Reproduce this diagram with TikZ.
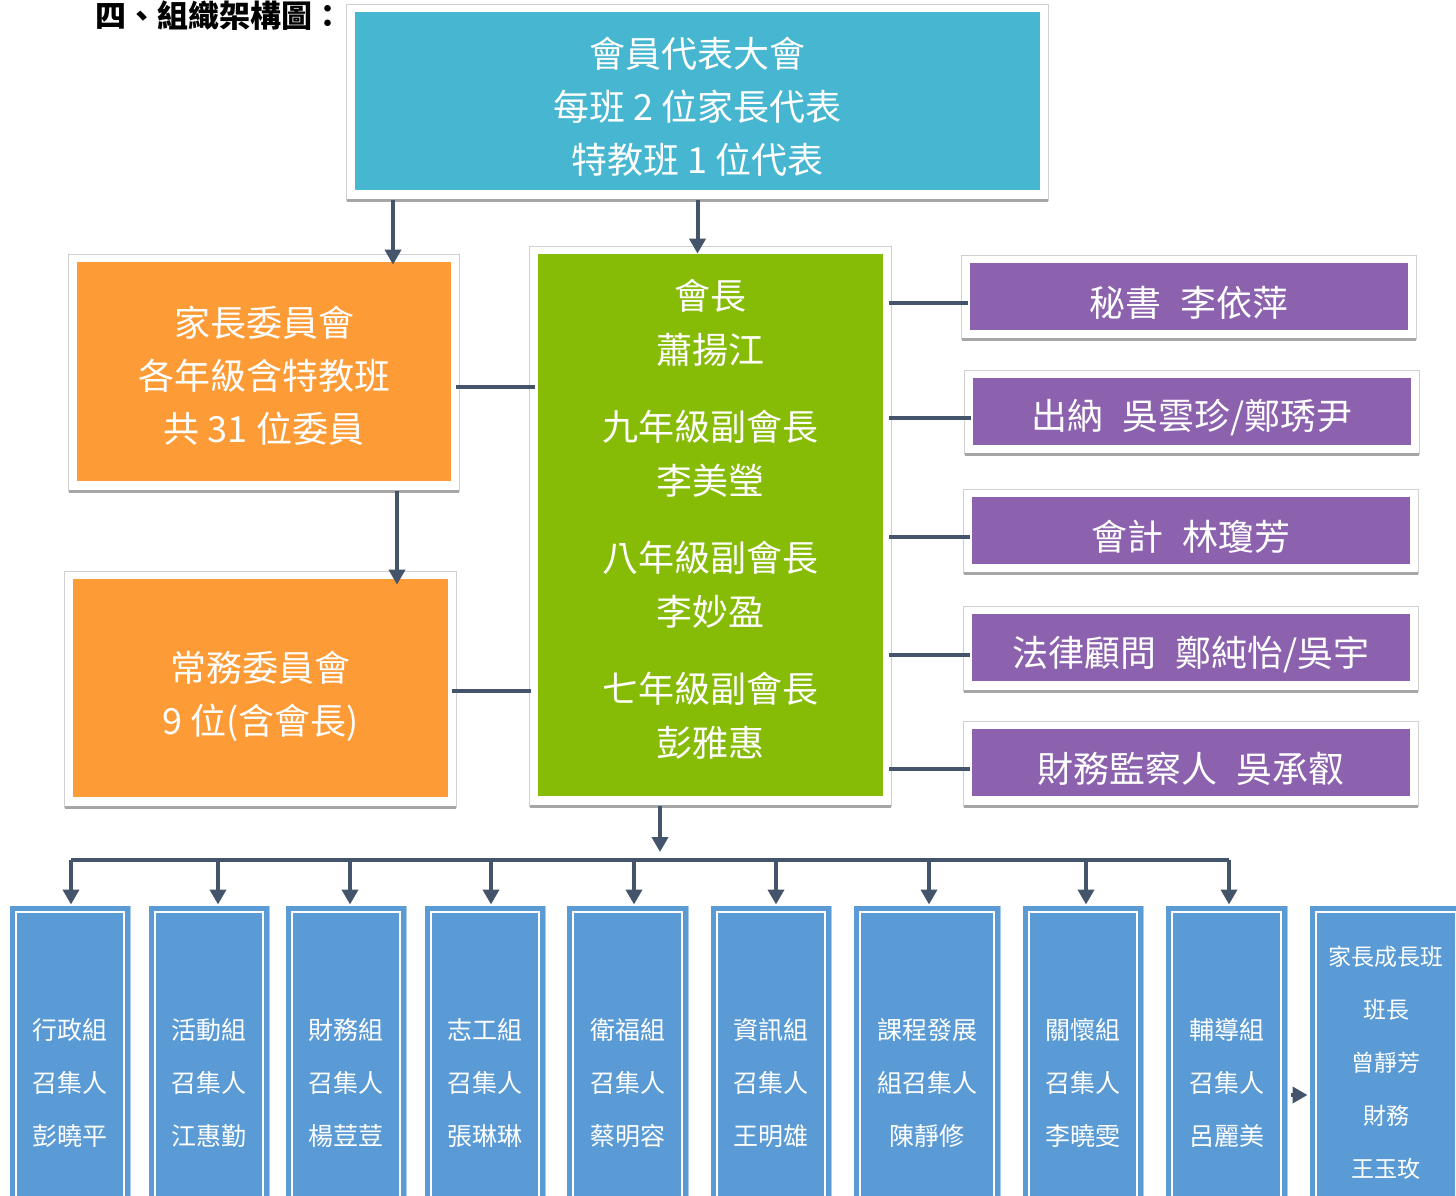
\documentclass[tikz,border=0pt]{standalone}
\usepackage{fontspec}
\setmainfont{Noto Sans CJK TC}
\usepackage{tikz}
\usetikzlibrary{arrows.meta,calc,backgrounds}
\definecolor{meetcyan}{HTML}{47B6D0}
\definecolor{boardorange}{HTML}{FD9B36}
\definecolor{chairgreen}{HTML}{86BC05}
\definecolor{staffpurple}{HTML}{8C61AE}
\definecolor{groupblue}{HTML}{5B9BD5}
\definecolor{groupedge}{HTML}{A9CBEA}
\definecolor{linkgray}{HTML}{44546A}
\definecolor{framegray}{HTML}{D0D0D0}
\definecolor{shadowgray}{HTML}{A6A6A6}

\begin{document}
\begin{tikzpicture}[x=0.5pt,y=-0.5pt,
  cardbox/.style={inner sep=0pt},
  words/.style={inner sep=0pt, text=white, align=center},
  bigtext/.style={font={\fontsize{18}{26.5}\selectfont}},
  meet/.style={cardbox, fill=meetcyan, minimum width=342.5pt, minimum height=89pt},
  board/.style={cardbox, fill=boardorange, minimum width=187pt, minimum height=109.5pt},
  chairbox/.style={cardbox, fill=chairgreen, minimum width=172.5pt, minimum height=271pt},
  staff/.style={cardbox, fill=staffpurple, minimum width=219pt, minimum height=33.5pt},
  stafftext/.style={words, font={\fontsize{18}{20}\selectfont\spaceskip=0.55em\relax}},
  groupbox/.style={words, fill=groupblue, draw=groupblue, line width=2.5pt, double=white, double distance=1pt,
    preaction={draw=groupedge, line width=6.5pt}, minimum height=171pt, font={\fontsize{12.5}{26.5}\selectfont}},
  boxframe/.style={fill=white, draw=framegray, line width=0.5pt},
  frameshadow/.style={draw=shadowgray, line width=1.5pt},
  link/.style={draw=linkgray, line width=2pt},
  arr/.style={link, -{Triangle[length=7.5pt,width=8pt]}}]
  \useasboundingbox (0,0) rectangle (1456,1195);
  \clip (0,0) rectangle (1456,1195);

  \node[anchor=west, inner sep=0pt, font={\fontsize{15.5}{18}\selectfont\bfseries}] (title) at (95,16) {四、組織架構圖：};

  \node[meet] (meeting) at (697.5,101) {};
  \node[words, bigtext] (meeting-t) at ($(meeting)+(0,6)$) {會員代表大會\\每班 2 位家長代表\\特教班 1 位代表};
  \node[board] (council) at (264,371.5) {};
  \node[words, bigtext] (council-t) at ($(council)+(0,4)$) {家長委員會\\各年級含特教班\\共 31 位委員};
  \node[board, minimum width=187.5pt, minimum height=109pt] (standing) at (260.5,688) {};
  \node[words, bigtext] (standing-t) at ($(standing)+(0,8)$) {常務委員會\\9 位(含會長)};
  \node[chairbox] (chair) at (710.5,525) {};
  \node[words, font={\fontsize{18}{27}\selectfont}] (chair-t) at ($(chair)+(0,-6)$)
    {會長\\蕭揚江\\[11.5pt]九年級副會長\\李美瑩\\[11.5pt]八年級副會長\\李妙盈\\[11.5pt]七年級副會長\\彭雅惠};

  \node[staff] (sec) at (1189,296) {};
  \node[staff] (cash) at (1192,411) {};
  \node[staff] (acct) at (1191,530) {};
  \node[staff] (legal) at (1191,647.5) {};
  \node[staff] (audit) at (1191,762.5) {};
  \node[stafftext] (sec-t) at ($(sec)+(0,7)$) {秘書 李依萍};
  \node[stafftext] (cash-t) at ($(cash)+(0,7)$) {出納 吳雲珍/鄭琇尹};
  \node[stafftext] (acct-t) at ($(acct)+(0,7)$) {會計 林瓊芳};
  \node[stafftext] (legal-t) at ($(legal)+(0,7)$) {法律顧問 鄭純怡/吳宇};
  \node[stafftext] (audit-t) at ($(audit)+(0,6)$) {財務監察人 吳承叡};

  \foreach \i/\x/\w/\a/\b/\c in {1/70/54/行政組/召集人/彭曉平, 2/209/54/活動組/召集人/江惠勤,
      3/346/54/財務組/召集人/楊荳荳, 4/485/54/志工組/召集人/張琳琳, 5/627.5/54.5/衛福組/召集人/蔡明容,
      6/771/54/資訊組/召集人/王明雄, 7/927/67/課程發展/組召集人/陳靜修, 8/1083/54/關懷組/召集人/李曉雯,
      9/1226.5/54.5/輔導組/召集人/呂麗美}
    \node[groupbox, minimum width=\w pt] (g\i) at (\x,1083) {\a\\\b\\\c};
  \node[groupbox, minimum width=70pt, minimum height=151pt, font={\fontsize{11.5}{26.5}\selectfont}] (g10) at (1386,1063)
    {家長成長班\\班長\\曾靜芳\\財務\\王玉玫};

  \begin{scope}[on background layer]
    \fill[white] (0,0) rectangle (1456,1195);
    \foreach \n in {meeting,council,standing,chair,sec,cash,acct,legal,audit}{
      \draw[boxframe] ([shift={(-8,-7)}]\n.north west) rectangle ([shift={(8,10)}]\n.south east);
      \draw[frameshadow] ([shift={(-8,10)}]\n.south west) -- ([shift={(8,10)}]\n.south east);
    }
  \end{scope}

  \coordinate (cut1) at (393,0);
  \coordinate (cut2) at (397,0);
  \coordinate (tie1) at (0,387);
  \coordinate (tie2) at (0,691);
  \coordinate (hub) at (660,860);

  \draw[arr, shorten <=5pt, shorten >=-1.5pt] (meeting.south -| cut1) -- (council.north -| cut1);
  \draw[arr, shorten <=5pt] (meeting.south) -- (meeting.south |- chair.north);
  \draw[arr, shorten <=5pt, shorten >=-3pt] (council.south -| cut2) -- (standing.north -| cut2);
  \draw[link, shorten <=2.5pt, shorten >=1.5pt] (council.east |- tie1) -- (chair.west |- tie1);
  \draw[link, shorten <=2pt, shorten >=3.5pt] (standing.east |- tie2) -- (chair.west |- tie2);
  \foreach \p in {sec,cash,acct,legal,audit}
    \draw[link, shorten <=3pt, shorten >=1pt] (chair.east |- \p-t) -- (\p.west |- \p-t);

  \draw[arr, shorten <=5pt, shorten >=4pt] (chair.south -| hub) -- (hub);
  \draw[link] ($(g1.north |- hub)+(1,0)$) -- ($(g9.north |- hub)+(2.5,0)$);
  \foreach \i/\d in {1/1, 2/9, 3/4, 4/6, 5/6.5, 6/5, 7/2, 8/3, 9/2.5}
    \draw[arr, shorten >=2.5pt] ($(g\i.north |- hub)+(\d,0)$) -- ($(g\i.north)+(\d,0)$);
  \coordinate (g9-out) at ($(g9.east)+(0,12)$);
  \draw[arr, shorten <=3.5pt, shorten >=3pt] (g9-out) -- (g9-out -| g10.west);
\end{tikzpicture}
\end{document}
